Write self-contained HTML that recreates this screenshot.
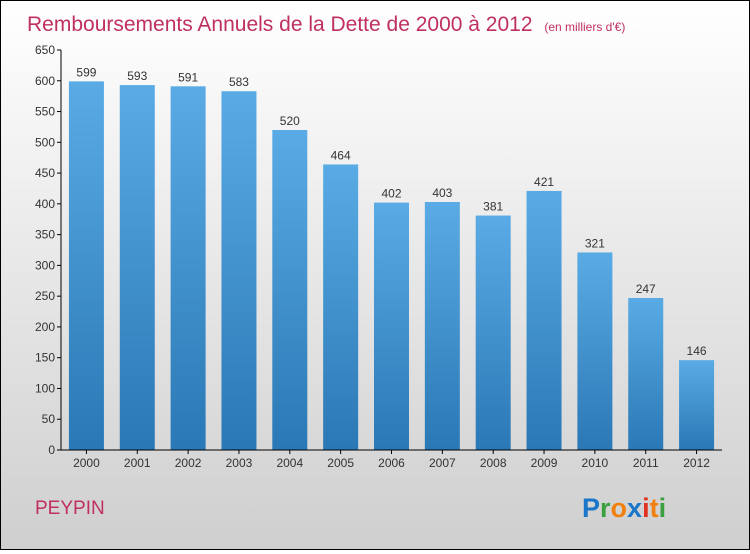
<!DOCTYPE html>
<html><head><meta charset="utf-8"><style>
body{margin:0}
#c{width:748px;height:548px;border:1px solid #000;background:linear-gradient(#ffffff,#cfcfcf);position:relative;font-family:"Liberation Sans",sans-serif}
</style></head><body>
<div id="c">
<svg width="748" height="548" id="s">
<defs><linearGradient id="g" x1="0" y1="0" x2="0" y2="1"><stop offset="0" stop-color="#5aabe5"/><stop offset="1" stop-color="#2a78b5"/></linearGradient></defs>
<text x="26" y="30" font-size="21" fill="#c0305e">Remboursements Annuels de la Dette de 2000 à 2012 <tspan font-size="12" dx="6">(en milliers d'€)</tspan></text>
<text x="34" y="513" font-size="19" fill="#c0305e">PEYPIN</text>
<g font-size="27" font-weight="bold" font-family="Liberation Sans,sans-serif">
<text x="581" y="516"><tspan fill="#1a76c8">P</tspan><tspan fill="#3aa040">r</tspan><tspan fill="#f08010">o</tspan><tspan fill="#1a76c8">x</tspan><tspan fill="#e03020">i</tspan><tspan fill="#f08010">t</tspan><tspan fill="#3aa040">i</tspan></text></g>
<g id="plot"></g>
</svg></div>
<script>
const categories=["2000","2001","2002","2003","2004","2005","2006","2007","2008","2009","2010","2011","2012"];
const values=[599,593,591,583,520,464,402,403,381,421,321,247,146];
const ticks=[0,50,100,150,200,250,300,350,400,450,500,550,600,650];
const NS="http://www.w3.org/2000/svg";
const x0=60,x1=721,y0=449,yTop=49,max=650;
const band=(x1-x0)/categories.length,bw=35;
const y=v=>y0-(y0-yTop)*v/max;
const xb=i=>x0+i*band+(band-bw)/2;
const p=document.getElementById('plot');
function mk(t,a,txt){const e=document.createElementNS(NS,t);for(const k in a)e.setAttribute(k,a[k]);if(txt!=null)e.textContent=txt;p.appendChild(e);return e;}
values.forEach((v,i)=>{
const r=mk('rect',{x:xb(i),y:y(v),width:bw,height:y0-y(v),fill:'url(#g)'});


const t=mk('text',{x:xb(i)+bw/2,y:y(v)-5,'font-size':12,fill:'#333','text-anchor':'middle'},v);


const c=mk('text',{x:xb(i)+bw/2,y:y0+17,'font-size':12,fill:'#333','text-anchor':'middle'},categories[i]);


mk('line',{x1:x0+(i+0.5)*band,x2:x0+(i+0.5)*band,y1:y0,y2:y0+4,stroke:'#000'});
});
ticks.forEach(v=>{
mk('line',{x1:x0-4,x2:x0,y1:y(v),y2:y(v),stroke:'#000'});
const t=mk('text',{x:x0-6,y:y(v)+4,'font-size':12,fill:'#333','text-anchor':'end'},v);


});
const ya=mk('line',{x1:x0,x2:x0,y1:yTop,y2:y0,stroke:'#000'});


const xa=mk('line',{x1:x0,x2:x1,y1:y0,y2:y0,stroke:'#000'});


</script>
</body></html>
